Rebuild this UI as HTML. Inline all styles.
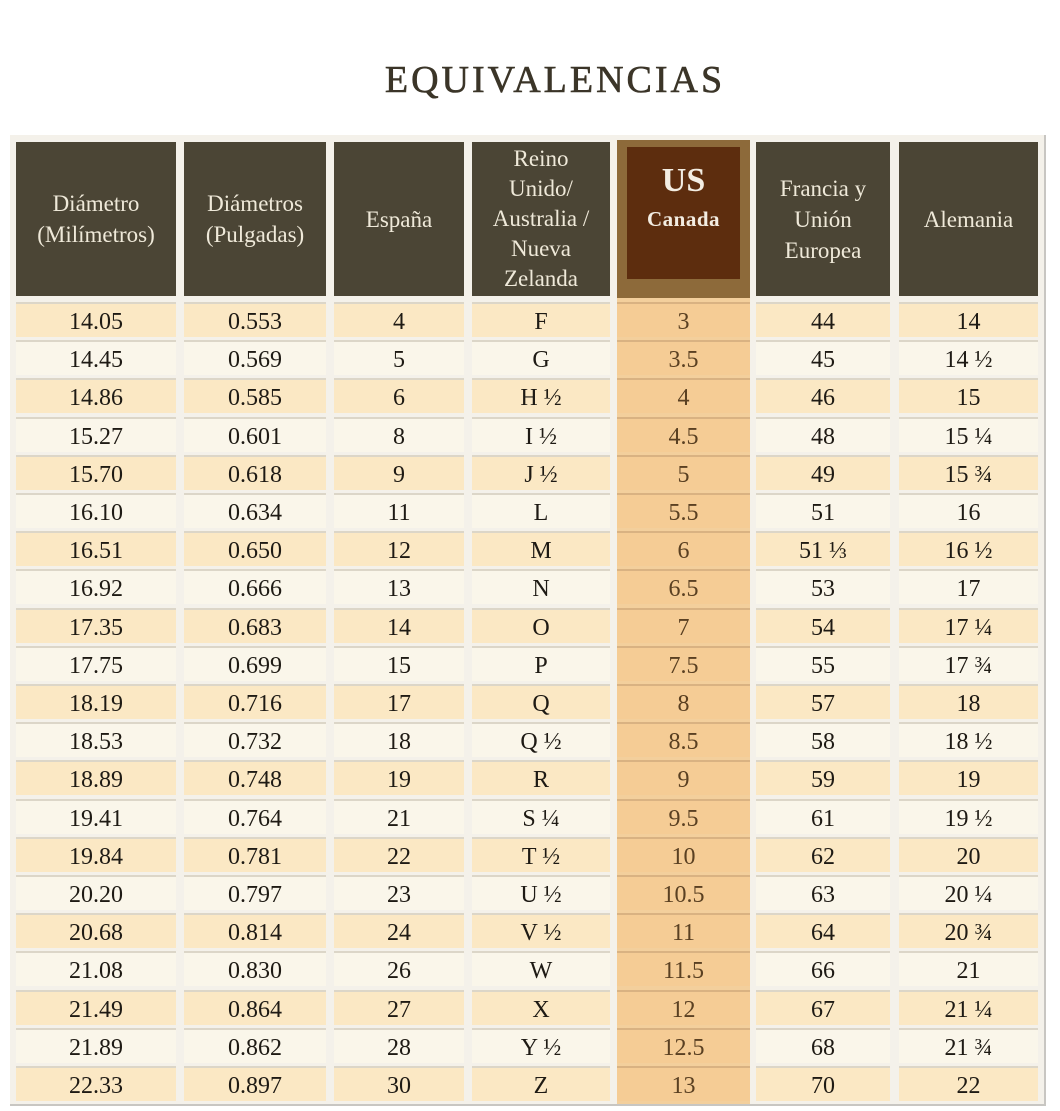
<!DOCTYPE html>
<html><head><meta charset="utf-8"><style>
*{margin:0;padding:0;box-sizing:border-box}
body{width:1060px;height:1111px;background:#fff;position:relative;overflow:hidden;font-family:"Liberation Serif",serif}
.title{position:absolute;left:0;width:1110px;top:58px;text-align:center;font-size:38px;letter-spacing:3px;color:#3b3528;-webkit-text-stroke:0.6px #3b3528}
.bg{position:absolute;left:10px;top:135px;width:1036px;height:971px;background:#f4f1ea;border-right:2px solid #c8c6c2;border-bottom:2px solid #c8c6c2}
.h{position:absolute;top:142px;height:154px;background:#4b4535;color:#efe9d9;font-size:23px;line-height:31px;text-align:center;display:flex;align-items:center;justify-content:center}
.us{position:absolute;left:617px;top:140px;width:133px;height:158px;background:#8d6a3a}
.usi{position:absolute;left:627px;top:147px;width:113px;height:132px;background:#5d2d0e;color:#f3ede2;text-align:center;font-weight:bold}
.col{position:absolute;left:617px;top:298px;width:133px;height:806px;background:#f3cf9c}
.r{position:absolute;left:0;height:35px;width:1060px}
.r div{position:absolute;top:0;height:35px;line-height:36px;text-align:center;font-size:24px;color:#1e1a14;border-top:2px solid #dcd6c8}
.r div:nth-child(1){left:16px;width:160px}
.r div:nth-child(2){left:184px;width:142px}
.r div:nth-child(3){left:334px;width:130px}
.r div:nth-child(4){left:472px;width:138px}
.r div:nth-child(5){left:617px;width:133px;background:#f5cc95!important;color:#5a4022;border-top-color:#d9b282}
.r div:nth-child(6){left:756px;width:134px}
.r div:nth-child(7){left:899px;width:139px}
.o div{background:#fbe8c4}
.e div{background:#faf6ea}
</style></head><body>
<div class="title">EQUIVALENCIAS</div>
<div class="bg"></div>
<div class="h" style="left:16px;width:160px">Diámetro<br>(Milímetros)</div>
<div class="h" style="left:184px;width:142px">Diámetros<br>(Pulgadas)</div>
<div class="h" style="left:334px;width:130px">España</div>
<div class="h" style="left:472px;width:138px;line-height:30px">Reino<br>Unido/<br>Australia /<br>Nueva<br>Zelanda</div>
<div class="us"></div>
<div class="usi"><div style="font-size:34px;margin-top:14px;line-height:40px">US</div><div style="font-size:21px;margin-top:6px;letter-spacing:0.5px">Canada</div></div>
<div class="h" style="left:756px;width:134px">Francia y<br>Unión<br>Europea</div>
<div class="h" style="left:899px;width:139px">Alemania</div>
<div class="col"></div>
<div class="r o" style="top:302px"><div>14.05</div><div>0.553</div><div>4</div><div>F</div><div>3</div><div>44</div><div>14</div></div>
<div class="r e" style="top:340px"><div>14.45</div><div>0.569</div><div>5</div><div>G</div><div>3.5</div><div>45</div><div>14 ½</div></div>
<div class="r o" style="top:378px"><div>14.86</div><div>0.585</div><div>6</div><div>H ½</div><div>4</div><div>46</div><div>15</div></div>
<div class="r e" style="top:417px"><div>15.27</div><div>0.601</div><div>8</div><div>I ½</div><div>4.5</div><div>48</div><div>15 ¼</div></div>
<div class="r o" style="top:455px"><div>15.70</div><div>0.618</div><div>9</div><div>J ½</div><div>5</div><div>49</div><div>15 ¾</div></div>
<div class="r e" style="top:493px"><div>16.10</div><div>0.634</div><div>11</div><div>L</div><div>5.5</div><div>51</div><div>16</div></div>
<div class="r o" style="top:531px"><div>16.51</div><div>0.650</div><div>12</div><div>M</div><div>6</div><div>51 ⅓</div><div>16 ½</div></div>
<div class="r e" style="top:569px"><div>16.92</div><div>0.666</div><div>13</div><div>N</div><div>6.5</div><div>53</div><div>17</div></div>
<div class="r o" style="top:608px"><div>17.35</div><div>0.683</div><div>14</div><div>O</div><div>7</div><div>54</div><div>17 ¼</div></div>
<div class="r e" style="top:646px"><div>17.75</div><div>0.699</div><div>15</div><div>P</div><div>7.5</div><div>55</div><div>17 ¾</div></div>
<div class="r o" style="top:684px"><div>18.19</div><div>0.716</div><div>17</div><div>Q</div><div>8</div><div>57</div><div>18</div></div>
<div class="r e" style="top:722px"><div>18.53</div><div>0.732</div><div>18</div><div>Q ½</div><div>8.5</div><div>58</div><div>18 ½</div></div>
<div class="r o" style="top:760px"><div>18.89</div><div>0.748</div><div>19</div><div>R</div><div>9</div><div>59</div><div>19</div></div>
<div class="r e" style="top:799px"><div>19.41</div><div>0.764</div><div>21</div><div>S ¼</div><div>9.5</div><div>61</div><div>19 ½</div></div>
<div class="r o" style="top:837px"><div>19.84</div><div>0.781</div><div>22</div><div>T ½</div><div>10</div><div>62</div><div>20</div></div>
<div class="r e" style="top:875px"><div>20.20</div><div>0.797</div><div>23</div><div>U ½</div><div>10.5</div><div>63</div><div>20 ¼</div></div>
<div class="r o" style="top:913px"><div>20.68</div><div>0.814</div><div>24</div><div>V ½</div><div>11</div><div>64</div><div>20 ¾</div></div>
<div class="r e" style="top:951px"><div>21.08</div><div>0.830</div><div>26</div><div>W</div><div>11.5</div><div>66</div><div>21</div></div>
<div class="r o" style="top:990px"><div>21.49</div><div>0.864</div><div>27</div><div>X</div><div>12</div><div>67</div><div>21 ¼</div></div>
<div class="r e" style="top:1028px"><div>21.89</div><div>0.862</div><div>28</div><div>Y ½</div><div>12.5</div><div>68</div><div>21 ¾</div></div>
<div class="r o" style="top:1066px"><div>22.33</div><div>0.897</div><div>30</div><div>Z</div><div>13</div><div>70</div><div>22</div></div>
</body></html>
